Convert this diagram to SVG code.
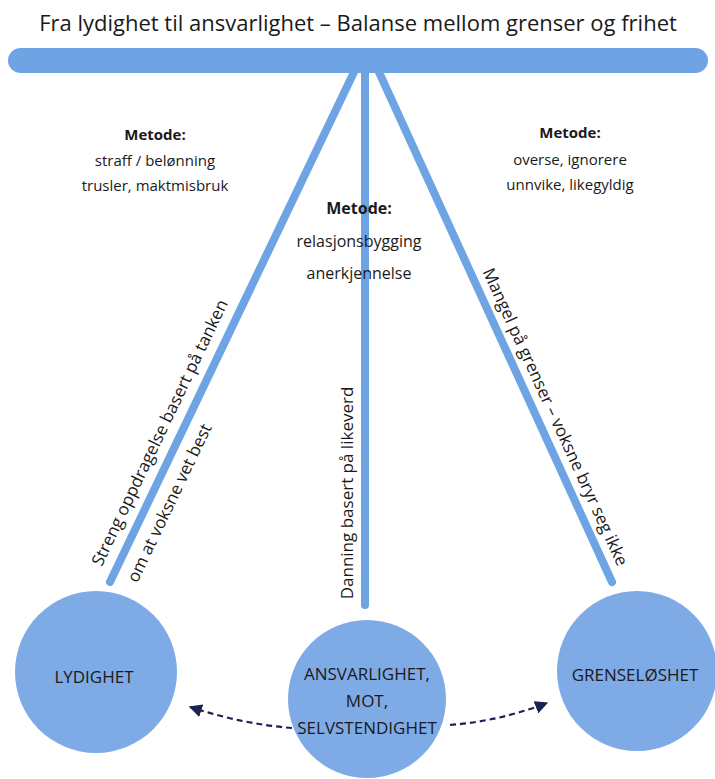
<svg xmlns="http://www.w3.org/2000/svg" width="715" height="779" viewBox="0 0 715 779">
<defs>
<style>
.t{font-family:"Open Sans","Liberation Sans",sans-serif;fill:#1a1a1a;}
.title{font-size:22px;text-anchor:middle;}
.m{font-size:15px;text-anchor:middle;}
.mb{font-size:15px;font-weight:bold;text-anchor:middle;}
.m2{font-size:16px;text-anchor:middle;}
.mb2{font-size:16px;font-weight:bold;text-anchor:middle;}
.lab{font-size:17px;text-anchor:middle;}
.node{font-size:17px;text-anchor:middle;}
.beam{stroke:#6ea3e4;stroke-width:8;stroke-linecap:round;fill:none;}
.circ{fill:#7eabe5;}
.dash{stroke:#1b2450;stroke-width:2.2;stroke-dasharray:6 4;fill:none;}
</style>
<marker id="ah" viewBox="0 0 10 10" refX="9" refY="5" markerWidth="6" markerHeight="6" orient="auto" markerUnits="strokeWidth">
<path d="M0,0 L10,5 L0,10 z" fill="#1b2450"/>
</marker>
</defs>
<rect width="715" height="779" fill="#ffffff"/>
<text class="t title" x="358" y="31">Fra lydighet til ansvarlighet – Balanse mellom grenser og frihet</text>
<g id="connectors">
<line class="beam" x1="355" y1="70" x2="110" y2="582"/>
<line class="beam" x1="365" y1="70" x2="365" y2="605"/>
<line class="beam" x1="378" y1="70" x2="612" y2="582"/>
<path class="dash" d="M292,728 Q242,724 190,707" marker-end="url(#ah)"/>
<path class="dash" d="M450,725 Q500,721 547,703" marker-end="url(#ah)"/>
</g>
<g id="bar"><rect x="8" y="48" width="700" height="25" rx="12.5" fill="#6ea3e4"/></g>
<g id="method-left">
<text class="t mb" x="155" y="140">Metode:</text>
<text class="t m" x="155" y="166">straff / belønning</text>
<text class="t m" x="155" y="191">trusler, maktmisbruk</text>
</g>
<g id="method-middle">
<text class="t mb2" x="359" y="214">Metode:</text>
<text class="t m2" x="359" y="247">relasjonsbygging</text>
<text class="t m2" x="359" y="279">anerkjennelse</text>
</g>
<g id="method-right">
<text class="t mb" x="570" y="138">Metode:</text>
<text class="t m" x="570" y="165">overse, ignorere</text>
<text class="t m" x="570" y="190">unnvike, likegyldig</text>
</g>
<g id="label-left" transform="translate(181,433) rotate(-64.4)">
<text class="t lab" x="-9" y="-13.5">Streng oppdragelse basert på tanken</text>
<text class="t lab" x="-68" y="25.5">om at voksne vet best</text>
</g>
<g id="label-middle" transform="translate(353,493) rotate(-90)">
<text class="t lab" x="0" y="0">Danning basert på likeverd</text>
</g>
<g id="label-right" transform="translate(536.6,417) rotate(65.4)">
<text class="t lab" x="7.7" y="-11.2">Mangel på grenser – voksne bryr seg ikke</text>
</g>
<g id="node-lydighet">
<circle class="circ" cx="96" cy="672" r="81"/>
<text class="t node" x="94" y="683">LYDIGHET</text>
</g>
<g id="node-ansvarlighet">
<circle class="circ" cx="367" cy="699" r="79"/>
<text class="t node" x="367" y="680">ANSVARLIGHET,</text>
<text class="t node" x="367" y="707">MOT,</text>
<text class="t node" x="367" y="734">SELVSTENDIGHET</text>
</g>
<g id="node-grenseloshet">
<circle class="circ" cx="637" cy="671" r="80"/>
<text class="t node" x="635" y="681">GRENSELØSHET</text>
</g>
</svg>
